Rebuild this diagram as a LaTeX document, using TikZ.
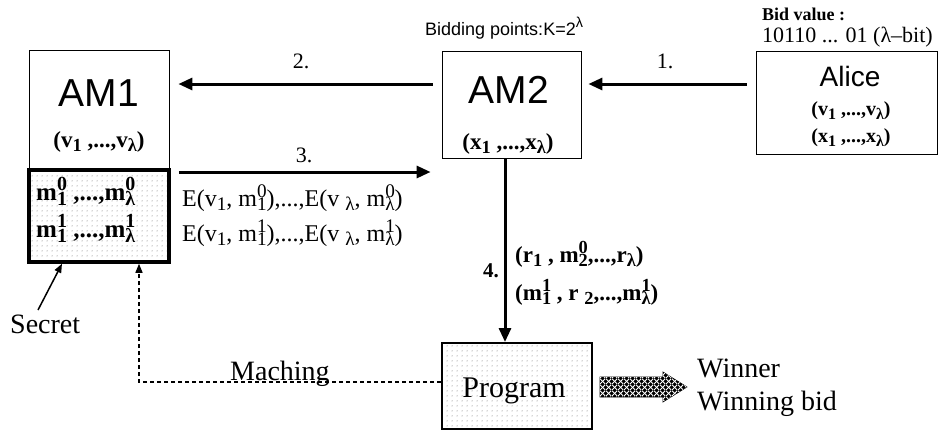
\documentclass[tikz,border=0pt]{standalone}
\usepackage{fontspec}
\setmainfont{Liberation Serif}
\setsansfont{Liberation Sans}
\usetikzlibrary{arrows.meta,patterns.meta}

% index helpers: sub/superscripts at 80% of the surrounding text
\newcommand\sbs[1]{\raisebox{-0.45ex}{\scalebox{0.8}{#1}}}
\newcommand\sps[1]{\raisebox{0.8ex}{\scalebox{0.8}{#1}}}
\newcommand\supsub[2]{\rlap{\sps{#1}}\sbs{#2}}

\tikzdeclarepattern{
  name=sparsedots,
  type=uncolored,
  bounding box={(0pt,0pt) and (5pt,5pt)},
  tile size={(5pt,5pt)},
  code={\fill (2.5pt,2.5pt) circle (0.55pt);}
}
\tikzdeclarepattern{
  name=weave,
  type=uncolored,
  bounding box={(0pt,0pt) and (6pt,6pt)},
  tile size={(6pt,6pt)},
  code={\draw[line width=1.1pt] (0pt,0pt) -- (6pt,6pt);
        \draw[line width=1.1pt] (0pt,6pt) -- (6pt,0pt);}
}

\tikzset{
  box/.style={draw, line width=0.8pt, inner sep=0pt},
  secretbox/.style={draw, line width=3.5pt, inner sep=0pt, pattern=sparsedots, pattern color=black!70},
  progbox/.style={draw, line width=2pt, inner sep=0pt, pattern=sparsedots, pattern color=black!70},
  flow/.style={line width=3pt, -{Triangle[length=14pt,width=12pt]}},
  thinflow/.style={line width=1.5pt, -{Triangle[length=9pt,width=7pt]}},
  matchflow/.style={line width=1.4pt, dash pattern=on 4pt off 3pt, -{Triangle[length=9pt,width=7pt]}},
  bigsans/.style={font=\sffamily\fontsize{39}{39}\selectfont, inner sep=0pt},
  alicefont/.style={font=\sffamily\fontsize{28}{28}\selectfont, inner sep=0pt},
  tuple/.style={font=\bfseries\fontsize{23}{23}\selectfont, inner sep=0pt},
  small tuple/.style={font=\bfseries\fontsize{20}{20}\selectfont, inner sep=0pt},
  secret tuple/.style={font=\bfseries\fontsize{25}{25}\selectfont, inner sep=0pt},
  enc/.style={font=\fontsize{24}{24}\selectfont, inner sep=0pt},
  step label/.style={font=\fontsize{22}{22}\selectfont, inner sep=0pt},
  big serif/.style={font=\fontsize{28}{28}\selectfont, inner sep=0pt},
}

\begin{document}
\begin{tikzpicture}[x=1pt,y=-1pt]
\useasboundingbox (0,0) rectangle (941,437);

% row heights of the horizontal messages
\coordinate (row12) at (0,84);
\coordinate (row3) at (0,172);
\coordinate (rowmatch) at (0,382);
\coordinate (col4) at (505,0);
\coordinate (colmatch) at (139,0);

% boxes
\node[box, minimum width=140pt, minimum height=120pt] (am1) at (99,110) {};
\node[secretbox, minimum width=140pt, minimum height=92pt] (am1sec) at (99,216) {};
\node[box, minimum width=139pt, minimum height=107pt] (am2) at (511.5,104.5) {};
\node[box, minimum width=181pt, minimum height=103pt] (alice) at (846.5,102.5) {};
\node[progbox, minimum width=150pt, minimum height=86pt] (prog) at (517,386) {};

% box contents
\node[bigsans, anchor=base] (am1name) at (99,106) {AM1};
\node[tuple, anchor=base] (am1v) at (99,147) {(v\sbs{1} ,...,v\sbs{λ})};
\node[secret tuple, anchor=base west] (m0) at (36,200) {m\supsub{0}{1} ,...,m\supsub{0}{λ}};
\node[secret tuple, anchor=base west] (m1) at (36,237) {m\supsub{1}{1} ,...,m\supsub{1}{λ}};

\node[bigsans, anchor=base] (am2name) at (509,103) {AM2};
\node[tuple, anchor=base] (am2x) at (508,149) {(x\sbs{1} ,...,x\sbs{λ})};

\node[alicefont, anchor=base] (alicename) at (850,86) {Alice};
\node[small tuple, anchor=base] (alicev) at (851,115) {(v\sbs{1} ,...,v\sbs{λ})};
\node[small tuple, anchor=base] (alicex) at (851,142) {(x\sbs{1} ,...,x\sbs{λ})};

\node[font=\fontsize{30}{30}\selectfont, inner sep=0pt, anchor=base] (progname) at (514,397) {Program};

% annotations above the boxes
\node[font=\sffamily\fontsize{18}{18}\selectfont, inner sep=0pt, anchor=base west] (points) at (425,35) {Bidding points:K=2\sps{λ}};
\node[font=\bfseries\fontsize{18}{18}\selectfont, inner sep=0pt, anchor=base west] (bidlabel) at (762,20) {Bid value :};
\node[font=\fontsize{22}{22}\selectfont, inner sep=0pt, anchor=base west] (bidbits) at (762,42) {10110 ... 01 (λ–bit)};

% messages
\draw[flow, shorten <=9pt, shorten >=7pt] (alice.west |- row12) -- (am2.east |- row12);
\node[step label, anchor=base] (s1) at (665,68) {1.};
\draw[flow, shorten <=9pt, shorten >=9pt] (am2.west |- row12) -- (am1.east |- row12);
\node[step label, anchor=base] (s2) at (301,68) {2.};
\draw[flow, shorten <=8pt, shorten >=11pt] (am1sec.east |- row3) -- (am2.west |- row3);
\node[step label, anchor=base] (s3) at (304,162) {3.};
\node[enc, anchor=base west] (e0) at (182,206) {E(v\sbs{1}, m\supsub{0}{1}),...,E(v \sbs{λ}, m\supsub{0}{λ})};
\node[enc, anchor=base west] (e1) at (182,241) {E(v\sbs{1}, m\supsub{1}{1}),...,E(v \sbs{λ}, m\supsub{1}{λ})};

\draw[flow] (am2.south -| col4) -- (prog.north -| col4);
\node[font=\bfseries\fontsize{21}{21}\selectfont, inner sep=0pt, anchor=base east] (s4) at (499,277) {4.};
\node[tuple, anchor=base west] (r0) at (515,262) {(r\sbs{1} , m\supsub{0}{2},...,r\sbs{λ})};
\node[tuple, anchor=base west] (r1) at (515,300) {(m\supsub{1}{1} , r \sbs{2},...,m\supsub{1}{λ})};

% matching feedback
\draw[matchflow] (prog.west |- rowmatch) -| (am1sec.south -| colmatch);
\node[big serif, anchor=base west] (match) at (230,380) {Maching};

% secret pointer
\node[big serif, anchor=base west] (secret) at (10,333) {Secret};
\coordinate (sectail) at (38,310);
\coordinate (sechead) at (62,0);
\draw[thinflow] (sectail) -- (am1sec.south -| sechead);

% result arrow and outcome
\path[draw=black, line width=0.6pt, fill=black, postaction={pattern=weave, pattern color=white}]
  (600,377) -- (663,377) -- (663,372) -- (687,387) -- (663,402) -- (663,397) -- (600,397) -- cycle;
\node[big serif, anchor=base west] (winner) at (697,377) {Winner};
\node[big serif, anchor=base west] (winbid) at (697,410) {Winning bid};
\end{tikzpicture}
\end{document}
